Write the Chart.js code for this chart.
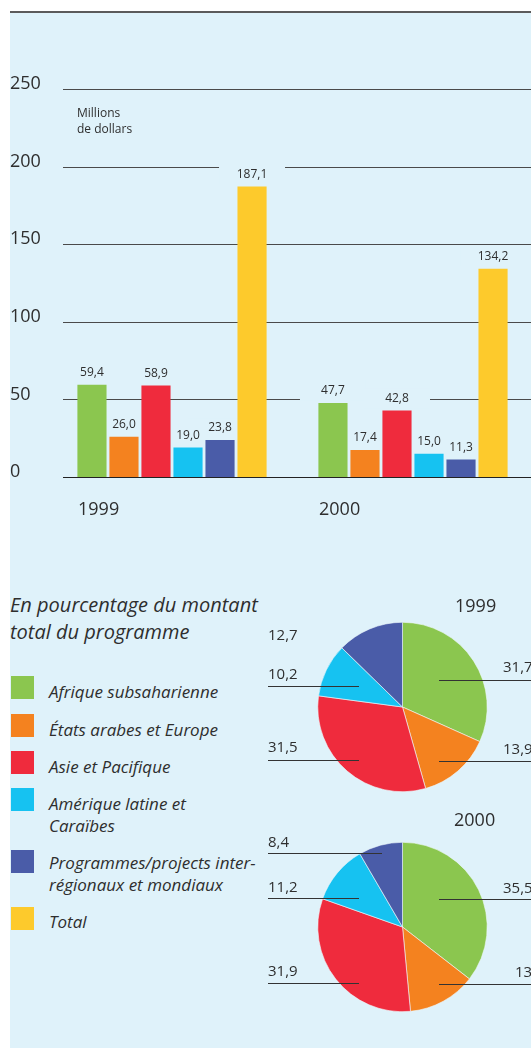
<!DOCTYPE html>
<html lang="fr">
<head>
<meta charset="utf-8">
<script src="https://cdn.jsdelivr.net/npm/chart.js@4"></script>
<style>
  html, body { margin: 0; padding: 0; width: 531px; height: 1048px; overflow: hidden; background: #fff;
    font-family: "Open Sans", sans-serif; color: #2e2e2e; }
  #panel { position: absolute; left: 10px; top: 11px; width: 530px; height: 1037px; background: #dff2fa;
    border-top: 2px solid #5b5b5b; box-sizing: border-box; }
  canvas, .t { position: absolute; }
  .unit { left: 77px; top: 105px; font-size: 12px; line-height: 16px; }
  .head { left: 10px; top: 591px; font-size: 20px; line-height: 27px; font-style: italic; }
  .yr { font-size: 18px; line-height: 22px; }
  .sw { position: absolute; left: 11px; width: 23px; height: 23px; }
  .lg { position: absolute; left: 49px; font-size: 17px; line-height: 21.5px; font-style: italic; white-space: pre-line; }
</style>
</head>
<body>
<div id="panel"></div>
<canvas id="bars" width="530" height="530" style="left:10px;top:12px"></canvas>
<div class="t unit">Millions<br>de dollars</div>
<div class="t head">En pourcentage du montant<br>total du programme</div>
<canvas id="pie1999" width="271" height="210" style="left:260px;top:590px"></canvas>
<canvas id="pie2000" width="271" height="210" style="left:260px;top:810px"></canvas>
<div class="t yr" style="left:455px;top:594px">1999</div>
<div class="t yr" style="left:454px;top:808px">2000</div>
<div id="legend"></div>
<script>
// data
const years = ['1999', '2000'];
const regions = ['Afrique subsaharienne', 'États arabes et Europe', 'Asie et Pacifique',
  'Amérique latine et\nCaraïbes', 'Programmes/projects inter-\nrégionaux et mondiaux', 'Total'];
const afrique = [59.4, 47.7];
const etatsArabes = [26.0, 17.4];
const asie = [58.9, 42.8];
const amerique = [19.0, 15.0];
const interRegional = [23.8, 11.3];
const total = [187.1, 134.2];
const yTicks = [0, 50, 100, 150, 200, 250];
const pct1999 = [31.7, 13.9, 31.5, 10.2, 12.7];
const pct2000 = [35.5, 13.0, 31.9, 11.2, 8.4];

const colors = ['#8bc64f', '#f4821f', '#ef2b3d', '#16c2f1', '#4a5ca8', '#fdca2c'];
const BG = '#dff2fa';
const TXT = '#2e2e2e';
const FONT = '"Open Sans", sans-serif';
const fmt = v => v.toFixed(1).replace('.', ',');

// legend (html)
const swTop = [676, 714, 751, 788, 850, 907];
const lgTop = [681, 719, 756, 793, 852, 911];
const legend = document.getElementById('legend');
regions.forEach((name, i) => {
  const sw = document.createElement('div');
  sw.className = 'sw';
  sw.style.top = swTop[i] + 'px';
  sw.style.background = colors[i];
  legend.appendChild(sw);
  const tx = document.createElement('div');
  tx.className = 'lg';
  tx.style.top = lgTop[i] + 'px';
  tx.textContent = name;
  legend.appendChild(tx);
});

// gridlines with gaps behind the value labels, then the labels
const barDecor = {
  id: 'barDecor',
  beforeDatasetsDraw(chart) {
    const { ctx, scales: { y } } = chart;
    ctx.save();
    ctx.lineWidth = 1;
    y.ticks.forEach(t => {
      const py = Math.round(y.getPixelForValue(t.value)) + 0.5;
      ctx.strokeStyle = t.value === 0 ? '#222' : '#4a4a4a';
      ctx.beginPath();
      ctx.moveTo(53, py);
      ctx.lineTo(chart.width, py);
      ctx.stroke();
    });
    ctx.fillStyle = BG;
    chart.data.datasets.forEach((ds, i) => {
      chart.getDatasetMeta(i).data.forEach(bar => {
        ctx.fillRect(bar.x - 33, bar.y - 22, 66, 20);
      });
    });
    ctx.restore();
  },
  afterDatasetsDraw(chart) {
    const { ctx } = chart;
    ctx.save();
    ctx.font = '12px ' + FONT;
    ctx.fillStyle = TXT;
    ctx.textAlign = 'center';
    ctx.textBaseline = 'middle';
    chart.data.datasets.forEach((ds, i) => {
      chart.getDatasetMeta(i).data.forEach((bar, j) => {
        ctx.fillText(fmt(ds.data[j]), bar.x, bar.y - 12);
      });
    });
    ctx.restore();
  }
};

const series = [afrique, etatsArabes, asie, amerique, interRegional, total];

new Chart(document.getElementById('bars'), {
  type: 'bar',
  data: {
    labels: years,
    datasets: series.map((d, i) => ({
      label: regions[i].replace('\n', ' '),
      data: d,
      backgroundColor: colors[i],
      borderWidth: 0,
      categoryPercentage: 0.797,
      barPercentage: 0.91
    }))
  },
  options: {
    responsive: false,
    animation: false,
    layout: { padding: { top: 77, right: 6.5, bottom: 20, left: 0 } },
    plugins: { legend: { display: false }, tooltip: { enabled: false } },
    scales: {
      x: {
        grid: { display: false, drawTicks: false },
        border: { display: false },
        ticks: { align: 'start', labelOffset: -94, padding: 22, color: TXT, font: { family: FONT, size: 18 } },
        afterFit: s => { s.height = 45; }
      },
      y: {
        min: 0, max: 250,
        grid: { display: false, drawTicks: false },
        border: { display: false },
        afterBuildTicks: s => { s.ticks = yTicks.map(v => ({ value: v })); },
        ticks: { crossAlign: 'far', labelOffset: -5, padding: 0, color: TXT, font: { family: FONT, size: 18 } },
        afterFit: s => { s.width = 41.5; }
      }
    }
  },
  plugins: [barDecor]
});

// pie label layout, relative to the pie centre
const lab1999 = [
  { tx: 100.5, ty: -39, l: [36.5, 140, -27] },
  { tx: 100.5, ty: 43, l: [36.5, 140, 54] },
  { tx: -134.5, ty: 41, l: [-134.5, -43.5, 53] },
  { tx: -134.5, ty: -32, l: [-134.5, -43.5, -21] },
  { tx: -134.5, ty: -71, l: null }
];
const lab2000 = [
  { tx: 100.5, ty: -38, l: [36.5, 140, -28] },
  { tx: 112.5, ty: 46, l: [36.5, 140, 57] },
  { tx: -134.5, ty: 45, l: [-134.5, -43.5, 56] },
  { tx: -134.5, ty: -39, l: [-134.5, -43.5, -29] },
  { tx: -134.5, ty: -84, l: [-134.5, -20.5, -74] }
];

function pieLabels(layout) {
  return {
    id: 'pieLabels',
    afterDatasetsDraw(chart) {
      const { ctx } = chart;
      const arcs = chart.getDatasetMeta(0).data;
      const cx = arcs[0].x, cy = arcs[0].y;
      ctx.save();
      ctx.strokeStyle = '#333';
      ctx.lineWidth = 1;
      ctx.fillStyle = TXT;
      ctx.font = '15px ' + FONT;
      ctx.textAlign = 'left';
      ctx.textBaseline = 'middle';
      arcs.forEach((arc, i) => {
        const p = layout[i];
        if (p.l) {
          const ly = Math.round(cy + p.l[2]) + 0.5;
          ctx.beginPath();
          ctx.moveTo(cx + p.l[0], ly);
          ctx.lineTo(cx + p.l[1], ly);
          ctx.stroke();
        }
        ctx.fillText(fmt(chart.data.datasets[0].data[i]), cx + p.tx, cy + p.ty);
      });
      ctx.restore();
    }
  };
}

function makePie(id, pcts, layout) {
  new Chart(document.getElementById(id), {
    type: 'pie',
    data: {
      labels: regions.slice(0, 5),
      datasets: [{ data: pcts, backgroundColor: colors.slice(0, 5), borderWidth: 0.6, borderColor: '#eef8fc' }]
    },
    options: {
      responsive: false,
      animation: false,
      layout: { padding: { left: 57.5, top: 32, right: 43.5, bottom: 8 } },
      plugins: { legend: { display: false }, tooltip: { enabled: false } }
    },
    plugins: [pieLabels(layout)]
  });
}

makePie('pie1999', pct1999, lab1999);
makePie('pie2000', pct2000, lab2000);
</script>
</body>
</html>
